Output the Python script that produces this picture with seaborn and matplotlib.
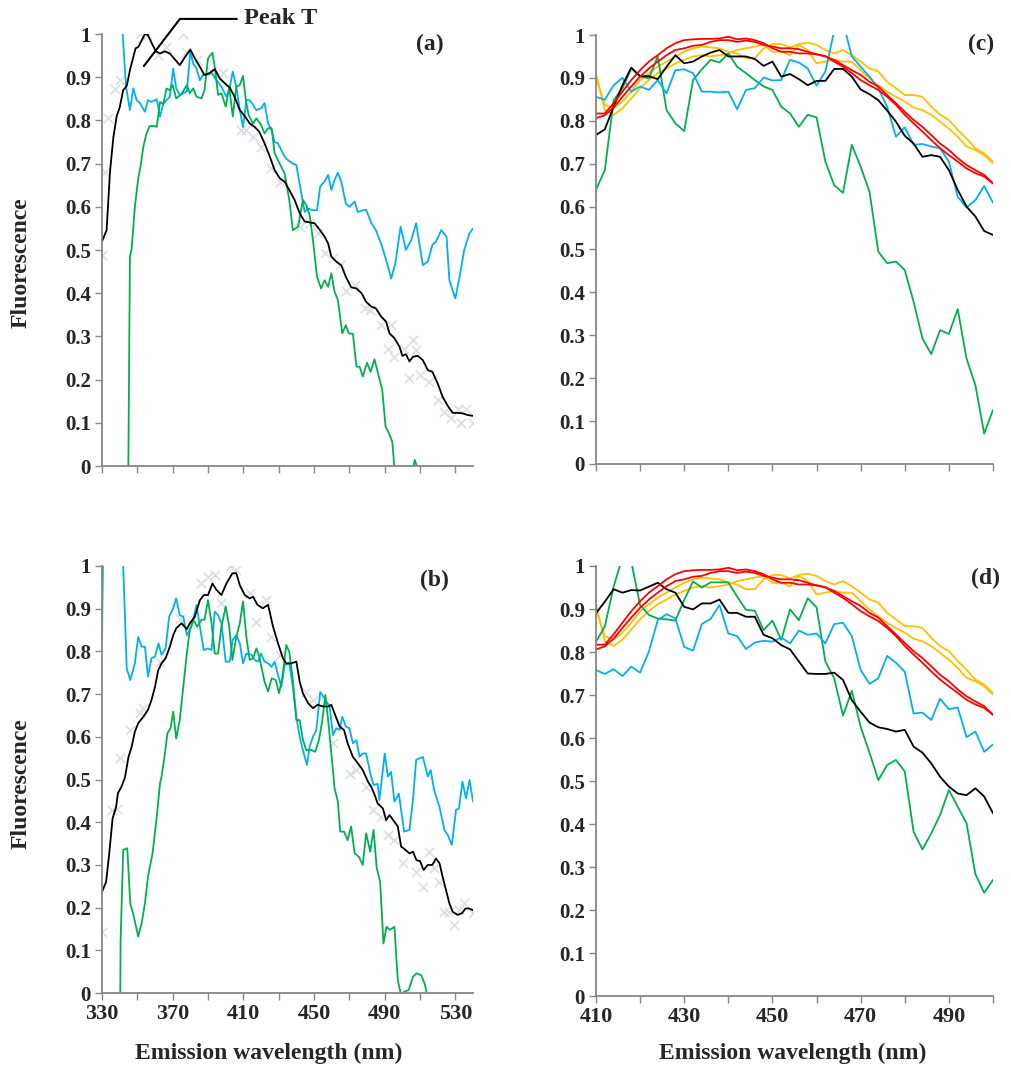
import numpy as np
import pandas as pd
import matplotlib
matplotlib.use("Agg")
import matplotlib.pyplot as plt
import seaborn as sns

# ---------------- data ----------------
# Panel (a)
a_black_x = [330,332.6,334.5,336.4,338.3,340,342,344,346,349,350.5,352.4,354.3,356,358,360.5,362.8,365.6,368.4,370.7,374,377,380,382.5,385.4,388,391,393.8,396.7,399.5,402.3,405,408,410.8,413.6,416.4,419,422,425,427.7,430.6,433.4,436,439,441.9,444.7,447.5,450.3,453,456,458,459.8,462.6,465.4,468,471,474,476.9,479.5,482.4,485,488,490.8,492.7,495.5,498.4,500,502,504,506,508.7,511.6,514.4,517,520,522.8,525.7,528.5,531.3,534,537,540]
a_black_y = [0.52,0.546,0.68,0.76,0.81,0.83,0.87,0.88,0.92,0.967,0.97,0.985,1.0,0.998,0.98,0.96,0.955,0.96,0.955,0.944,0.928,0.947,0.964,0.944,0.924,0.905,0.91,0.919,0.897,0.886,0.876,0.855,0.824,0.81,0.793,0.785,0.774,0.747,0.716,0.685,0.666,0.658,0.639,0.616,0.585,0.566,0.564,0.562,0.548,0.531,0.515,0.485,0.473,0.465,0.438,0.414,0.411,0.40,0.38,0.369,0.365,0.346,0.334,0.307,0.296,0.276,0.255,0.259,0.242,0.253,0.255,0.245,0.222,0.218,0.191,0.16,0.139,0.123,0.123,0.122,0.118,0.116]

a_blue_x = [339.6,341.7,343.6,345.8,347.7,349.6,351.5,354.3,356,358,361,362.8,364.7,366.5,368.4,370.3,372,374,376,378,380,381.6,383.5,385.4,387,389,392,394.8,397.6,400.4,402,404,406,408,409.8,411.7,413.6,415.5,417.4,420,422,424,426,427.7,429.6,431.5,433.4,435.3,438,440,442.8,444.7,446.6,449.4,451.7,453.5,456,458,459.8,461.6,463.5,465.4,468,470,473,474.8,477.6,479.5,482.4,485,488,490.8,493.7,496,499,502,505,507.8,511.6,514.4,517,519,522,525,526.6,530,532,535,538,540]
a_blue_y = [1.15,1.0,0.878,0.824,0.874,0.847,0.84,0.82,0.847,0.843,0.849,0.809,0.838,0.847,0.855,0.92,0.874,0.859,0.863,0.867,0.959,0.932,0.92,0.893,0.905,0.905,0.91,0.893,0.878,0.855,0.87,0.913,0.878,0.824,0.785,0.847,0.847,0.836,0.824,0.828,0.84,0.793,0.778,0.75,0.747,0.731,0.716,0.708,0.70,0.697,0.631,0.588,0.596,0.592,0.592,0.647,0.659,0.674,0.639,0.662,0.679,0.659,0.608,0.60,0.612,0.588,0.592,0.593,0.563,0.546,0.515,0.477,0.434,0.469,0.554,0.50,0.523,0.562,0.465,0.473,0.512,0.519,0.546,0.531,0.43,0.388,0.43,0.50,0.539,0.55]

a_green_x = [343.8,345.8,346.8,348.6,350.5,351.8,353.4,355.2,357,360,361,362.8,364.7,366.5,368.4,370,372,375,378,379.7,381.6,383.5,386.3,388,390,392.5,393.8,395.7,397.6,400,402,404,406,408,409.8,411.4,413,415.5,417.4,420,422,424,426,427.7,430.6,433.4,436,438,441,443.7,445.6,447.5,449.4,451.7,454,456,458,459.8,461.6,463.5,466,468,469.7,472,474,475.8,477.6,480,482,484.2,486.7,488.6,490.5,492.4,494.3,496,498,502,505,507,509,511]
a_green_y = [-0.6,0.485,0.504,0.6,0.666,0.693,0.739,0.77,0.787,0.787,0.785,0.843,0.838,0.874,0.87,0.882,0.851,0.861,0.882,0.863,0.874,0.855,0.851,0.87,0.944,0.957,0.924,0.859,0.863,0.832,0.878,0.809,0.878,0.882,0.903,0.847,0.812,0.793,0.805,0.79,0.77,0.782,0.782,0.724,0.70,0.677,0.616,0.546,0.554,0.616,0.604,0.581,0.523,0.438,0.411,0.43,0.415,0.446,0.404,0.384,0.307,0.326,0.307,0.306,0.23,0.23,0.207,0.239,0.218,0.247,0.207,0.176,0.091,0.076,0.056,-0.03,-0.08,-0.1,-0.03,0.014,-0.01,-0.1]

a_grey_x = [330,331.7,333.6,337.3,340.2,351.5,355.2,361.8,366.5,376,377.8,383.5,392,398.5,408.9,411.7,415.5,420.2,425.9,430.6,441.9,447.5,452.2,456,460.7,464.5,468.2,473,478.6,481.4,488,491.8,493.7,495.5,501.2,504,505.9,507.8,509.7,515.3,520,523.8,527.5,531.3,533,536,539.8]
a_grey_y = [0.488,0.68,0.805,0.872,0.893,1.0,0.997,0.951,0.97,1.0,0.959,0.94,0.912,0.909,0.778,0.778,0.762,0.739,0.689,0.658,0.554,0.562,0.539,0.492,0.481,0.465,0.404,0.419,0.365,0.361,0.326,0.272,0.326,0.253,0.272,0.203,0.292,0.269,0.211,0.195,0.153,0.126,0.11,0.133,0.10,0.133,0.10]

# Panel (b)
b_black_x = [330,332.3,334,336,338,339,341,343,345,346.8,348.6,350.5,353.4,356,358,360,361.8,363.7,366,368.4,370.3,372,375,378,379.7,382.5,385.4,387.6,390,392.5,394.8,397.6,400.4,403.8,406,408,410.8,413.6,415.5,418,421,424,426.8,429.6,432.4,434.3,437,440,441.9,443.7,446.6,449.4,452,455,458,459.8,461.6,464.5,467,469,472,474.8,477.6,480.5,482.4,484.3,486,489,490.8,492.7,495.5,497.4,499.3,501.8,504,506,508,510,512,514.4,517,519,521,522.8,524.7,526.6,528.5,531.3,533.8,535.7,537.6,540]
b_black_y = [0.237,0.26,0.323,0.409,0.436,0.468,0.483,0.505,0.553,0.577,0.612,0.632,0.647,0.663,0.686,0.717,0.756,0.772,0.784,0.811,0.838,0.854,0.866,0.852,0.866,0.881,0.92,0.932,0.932,0.959,0.944,0.932,0.959,0.983,0.983,0.955,0.932,0.924,0.928,0.909,0.901,0.909,0.858,0.819,0.784,0.772,0.772,0.776,0.729,0.702,0.679,0.667,0.675,0.671,0.671,0.675,0.655,0.624,0.616,0.585,0.553,0.538,0.522,0.495,0.483,0.464,0.444,0.432,0.405,0.417,0.401,0.39,0.343,0.335,0.327,0.331,0.311,0.309,0.288,0.30,0.30,0.315,0.304,0.272,0.241,0.21,0.19,0.183,0.187,0.198,0.198,0.194]

b_blue_x = [330,331.5,341,342,344,346,348.6,350.5,352.4,354.3,356,358,360,362,363.7,366,368,370.3,372,374,376,378,380.7,383.5,385.4,387.6,390,392,393.8,395.7,397.6,400,402.3,404,406,408,409.8,411.7,414.6,416.4,418.3,420,422,424,426,427.7,429.6,431.5,433.4,436,438,440,441.9,443.7,446,447.5,449.4,451.3,453.5,456,458.8,460.7,462.6,464.5,466,468,470,472,474,475.8,477.6,479.5,481.8,483.7,486,487,490,491.8,493.6,495.5,498,501,504,506,507.8,511.6,514.4,516,518,521,523.8,525.7,528,530.4,532,534,536,538,540]
b_blue_y = [0.83,1.3,1.3,1.0,0.76,0.733,0.772,0.834,0.811,0.811,0.741,0.784,0.788,0.819,0.792,0.807,0.881,0.901,0.924,0.885,0.881,0.838,0.858,0.909,0.858,0.803,0.807,0.803,0.893,0.885,0.866,0.776,0.776,0.827,0.838,0.819,0.772,0.795,0.792,0.78,0.776,0.795,0.776,0.772,0.764,0.776,0.745,0.717,0.768,0.772,0.717,0.647,0.60,0.569,0.534,0.577,0.60,0.616,0.705,0.69,0.671,0.604,0.62,0.616,0.647,0.624,0.62,0.585,0.592,0.553,0.561,0.561,0.515,0.487,0.49,0.452,0.561,0.507,0.518,0.448,0.467,0.378,0.382,0.452,0.546,0.553,0.507,0.522,0.475,0.436,0.382,0.37,0.347,0.429,0.432,0.495,0.456,0.499,0.448]

b_green_x = [339.6,340.5,342,344.3,346,348,350.5,352.4,354.3,356,358.6,361,362.8,363.7,365.6,367,368.8,370.3,372,374,376,378,379.7,381.6,383.9,386.3,388,390,392,393.8,395.7,397.6,400,402,403.8,406,408,409.8,411.7,413.6,415.5,417.4,419,422,424,426,428.3,430.2,432,434.3,436,438,440,441.9,443.7,445.6,448.5,450.7,452.8,454.7,456.4,458,459.8,461.6,463.5,464.8,467,469,471,473,475.4,477.6,479.5,481.8,483.7,485.5,487.4,489.3,491,493,495.5,497.4,499.3,501,503.6,506,508,510.6,512.5,514,516]
b_green_y = [-0.6,0.12,0.335,0.339,0.21,0.179,0.132,0.163,0.21,0.272,0.327,0.413,0.49,0.507,0.561,0.608,0.62,0.659,0.596,0.639,0.717,0.795,0.85,0.874,0.858,0.874,0.874,0.92,0.866,0.795,0.795,0.858,0.905,0.858,0.78,0.834,0.866,0.917,0.834,0.78,0.784,0.807,0.788,0.729,0.706,0.737,0.733,0.702,0.737,0.815,0.799,0.733,0.639,0.639,0.593,0.569,0.569,0.565,0.593,0.639,0.698,0.639,0.561,0.48,0.448,0.378,0.378,0.358,0.39,0.327,0.319,0.30,0.374,0.331,0.382,0.292,0.261,0.116,0.155,0.148,0.155,0.03,-0.005,0.003,0.007,0.038,0.046,0.042,0.023,-0.002,-0.1]

b_grey_x = [330,335.5,338.3,340.2,345.8,351.5,353.4,362.8,374,386.3,390,393.8,397.6,402.3,406,413.6,417.4,423,425.9,430.6,445.6,449.4,460.7,470.1,473.9,479.5,483.3,488,491.8,495.5,500.2,507.8,511.5,515.3,518.1,521,523.8,526.6,529.4,532.3,535,539.8]
b_grey_y = [0.144,0.429,0.432,0.55,0.616,0.655,0.667,0.776,0.877,0.961,0.975,0.979,0.913,1.0,0.99,0.936,0.87,0.92,0.834,0.792,0.706,0.686,0.585,0.514,0.522,0.483,0.429,0.413,0.37,0.358,0.304,0.284,0.249,0.331,0.292,0.261,0.19,0.19,0.159,0.194,0.21,0.187]

# Panels (c) and (d): 410-500 nm every 2 nm
cd_x = list(range(410, 501, 2))
c_black = [0.767,0.78,0.833,0.883,0.924,0.904,0.904,0.897,0.926,0.953,0.934,0.938,0.95,0.959,0.965,0.95,0.95,0.95,0.944,0.928,0.938,0.903,0.909,0.897,0.883,0.893,0.893,0.921,0.921,0.903,0.873,0.862,0.848,0.824,0.798,0.765,0.747,0.716,0.72,0.716,0.685,0.639,0.60,0.577,0.543,0.534]
c_blue = [0.856,0.849,0.883,0.9,0.868,0.88,0.872,0.895,0.864,0.918,0.92,0.911,0.868,0.868,0.866,0.868,0.827,0.872,0.876,0.901,0.894,0.895,0.942,0.936,0.922,0.882,0.915,1.01,1.03,0.95,0.926,0.903,0.876,0.833,0.763,0.785,0.744,0.746,0.74,0.736,0.705,0.623,0.598,0.615,0.648,0.609]
c_green = [0.639,0.685,0.848,0.876,0.922,0.903,0.899,0.95,0.825,0.794,0.776,0.895,0.92,0.942,0.936,0.957,0.926,0.911,0.895,0.88,0.872,0.833,0.817,0.786,0.814,0.808,0.705,0.65,0.632,0.744,0.693,0.635,0.495,0.468,0.472,0.452,0.378,0.293,0.256,0.312,0.303,0.361,0.246,0.184,0.071,0.126]
red_1 = [0.817,0.817,0.841,0.868,0.895,0.918,0.938,0.953,0.969,0.981,0.988,0.99,0.991,0.991,0.992,0.996,0.99,0.992,0.988,0.981,0.969,0.961,0.961,0.957,0.957,0.955,0.95,0.942,0.93,0.918,0.907,0.891,0.88,0.86,0.841,0.821,0.802,0.786,0.767,0.747,0.732,0.713,0.697,0.685,0.674,0.654]
red_2 = [0.806,0.813,0.831,0.856,0.88,0.903,0.922,0.938,0.953,0.965,0.969,0.975,0.977,0.984,0.988,0.988,0.984,0.987,0.984,0.977,0.973,0.969,0.969,0.967,0.961,0.955,0.951,0.938,0.926,0.911,0.895,0.883,0.872,0.856,0.837,0.814,0.794,0.775,0.755,0.736,0.72,0.705,0.689,0.678,0.67,0.654]
orange_1 = [0.911,0.825,0.814,0.829,0.852,0.876,0.895,0.911,0.922,0.934,0.942,0.95,0.953,0.95,0.953,0.957,0.965,0.969,0.973,0.977,0.961,0.961,0.953,0.977,0.965,0.934,0.938,0.942,0.938,0.938,0.918,0.899,0.883,0.868,0.856,0.845,0.831,0.825,0.814,0.798,0.782,0.763,0.74,0.732,0.72,0.701]
orange_2 = [0.899,0.837,0.829,0.845,0.868,0.895,0.911,0.926,0.938,0.95,0.961,0.969,0.973,0.971,0.969,0.961,0.957,0.946,0.946,0.969,0.979,0.979,0.971,0.979,0.982,0.977,0.965,0.957,0.965,0.953,0.938,0.922,0.915,0.891,0.876,0.86,0.86,0.856,0.833,0.814,0.802,0.779,0.759,0.736,0.724,0.705]
d_black = [0.89,0.917,0.946,0.938,0.944,0.943,0.952,0.961,0.946,0.938,0.905,0.899,0.913,0.913,0.922,0.891,0.891,0.882,0.882,0.84,0.832,0.816,0.806,0.778,0.75,0.749,0.749,0.752,0.735,0.688,0.661,0.636,0.625,0.621,0.615,0.619,0.58,0.566,0.541,0.51,0.487,0.471,0.467,0.483,0.464,0.425]
d_blue = [0.758,0.749,0.76,0.744,0.766,0.752,0.801,0.874,0.888,0.878,0.812,0.803,0.865,0.877,0.909,0.843,0.837,0.807,0.822,0.826,0.824,0.834,0.82,0.85,0.84,0.843,0.82,0.865,0.868,0.837,0.758,0.726,0.739,0.791,0.775,0.754,0.657,0.659,0.642,0.691,0.667,0.671,0.602,0.615,0.568,0.585]
d_green = [0.824,0.859,0.952,1.02,1.01,0.909,0.886,0.878,0.876,0.873,0.921,0.964,0.95,0.962,0.962,0.962,0.929,0.898,0.896,0.851,0.873,0.828,0.899,0.874,0.925,0.904,0.778,0.739,0.652,0.71,0.626,0.566,0.502,0.537,0.549,0.522,0.382,0.341,0.378,0.421,0.479,0.44,0.402,0.284,0.24,0.27]

y_ticks = [0, 0.1, 0.2, 0.3, 0.4, 0.5, 0.6, 0.7, 0.8, 0.9, 1]
y_ticklabels = ["0", "0.1", "0.2", "0.3", "0.4", "0.5", "0.6", "0.7", "0.8", "0.9", "1"]
left_xticks = [330, 370, 410, 450, 490, 530]
right_xticks = [410, 430, 450, 470, 490]

# ---------------- style ----------------
sns.set_style("white")
plt.rcParams["font.family"] = ["Liberation Serif", "DejaVu Serif"]
plt.rcParams["font.weight"] = "bold"

BLACK = "#000000"
BLUE = "#00B0F0"
GREEN = "#00B050"
RED = "#FF0000"
ORANGE = "#FFC000"
GREY = "#DDDDE8"
AXC = "#868686"
LW = 1.3

fig = plt.figure(figsize=(10.11, 10.74), dpi=100)
ax_a = fig.add_axes([0.1009, 0.5661, 0.3670, 0.4022])
ax_b = fig.add_axes([0.1009, 0.0754, 0.3670, 0.3976])
ax_c = fig.add_axes([0.5895, 0.5680, 0.3927, 0.3994])
ax_d = fig.add_axes([0.5895, 0.0726, 0.3927, 0.4004])


def line(ax, x, y, color):
    df = pd.DataFrame({"x": x, "y": y})
    sns.lineplot(data=df, x="x", y="y", ax=ax, color=color, linewidth=LW,
                 sort=False, estimator=None, legend=False)


def marks(ax, x, y):
    df = pd.DataFrame({"x": x, "y": y})
    sns.scatterplot(data=df, x="x", y="y", ax=ax, marker="x", color=GREY,
                    s=45, linewidth=1.2, legend=False, zorder=1)


def style(ax, xlim, major, minor, panel, pxy):
    ax.set_xlim(*xlim)
    ax.set_ylim(0, 1)
    ax.set_xticks(major)
    ax.set_xticks(minor, minor=True)
    ax.set_yticks(y_ticks)
    ax.set_yticklabels(y_ticklabels, fontsize=15, fontweight="bold")
    ax.set_xticklabels([str(t) for t in major], fontsize=16, fontweight="bold")
    for s in ["top", "right"]:
        ax.spines[s].set_visible(False)
    for s in ["left", "bottom"]:
        ax.spines[s].set_color(AXC)
        ax.spines[s].set_linewidth(1.3)
    ax.tick_params(axis="both", which="both", direction="out", length=5,
                   width=1.0, color=AXC, pad=3, left=True, bottom=True)
    ax.set_xlabel("")
    ax.set_ylabel("")
    ax.text(pxy[0], pxy[1], panel, transform=ax.transAxes, fontsize=17,
            fontweight="bold", ha="center", va="center")
    ax.patch.set_alpha(0)


# (a)
marks(ax_a, a_grey_x, a_grey_y)
line(ax_a, a_blue_x, a_blue_y, BLUE)
line(ax_a, a_green_x, a_green_y, GREEN)
line(ax_a, a_black_x, a_black_y, BLACK)
style(ax_a, (330, 540), left_xticks, [350, 390, 430, 470, 510], "(a)", (0.884, 0.975))
ax_a.set_xticklabels([])

# Peak T annotation
peak_line_x = [353.7, 374.1, 406.3]
peak_line_y = [0.926, 1.035, 1.035]
ax_a.plot(peak_line_x, peak_line_y, color=BLACK, lw=1.5, clip_on=False)
ax_a.text(410.5, 1.037, "Peak T", fontsize=17.5, fontweight="bold",
          ha="left", va="center", clip_on=False)

# (b)
marks(ax_b, b_grey_x, b_grey_y)
line(ax_b, b_blue_x, b_blue_y, BLUE)
line(ax_b, b_green_x, b_green_y, GREEN)
line(ax_b, b_black_x, b_black_y, BLACK)
style(ax_b, (330, 540), left_xticks, [350, 390, 430, 470, 510], "(b)", (0.897, 0.967))

# (c)
for yy, col in [(orange_1, ORANGE), (orange_2, ORANGE), (c_green, GREEN),
                (c_blue, BLUE), (c_black, BLACK), (red_1, RED), (red_2, RED)]:
    line(ax_c, cd_x, yy, col)
style(ax_c, (410, 500), right_xticks, [420, 440, 460, 480, 500], "(c)", (0.97, 0.977))
ax_c.set_xticklabels([])

# (d)
for yy, col in [(orange_1, ORANGE), (orange_2, ORANGE), (d_green, GREEN),
                (d_blue, BLUE), (d_black, BLACK), (red_1, RED), (red_2, RED)]:
    line(ax_d, cd_x, yy, col)
style(ax_d, (410, 500), right_xticks, [420, 440, 460, 480, 500], "(d)", (0.98, 0.972))

# axis titles
for y in [0.755, 0.27]:
    fig.text(0.021, y, "Fluorescence", rotation=90, fontsize=17,
             fontweight="bold", ha="center", va="center")
fig.text(0.266, 0.019, "Emission wavelength (nm)", fontsize=17,
         fontweight="bold", ha="center", va="center")
fig.text(0.784, 0.019, "Emission wavelength (nm)", fontsize=17,
         fontweight="bold", ha="center", va="center")

fig.savefig("out.png", dpi=100, facecolor="white")
